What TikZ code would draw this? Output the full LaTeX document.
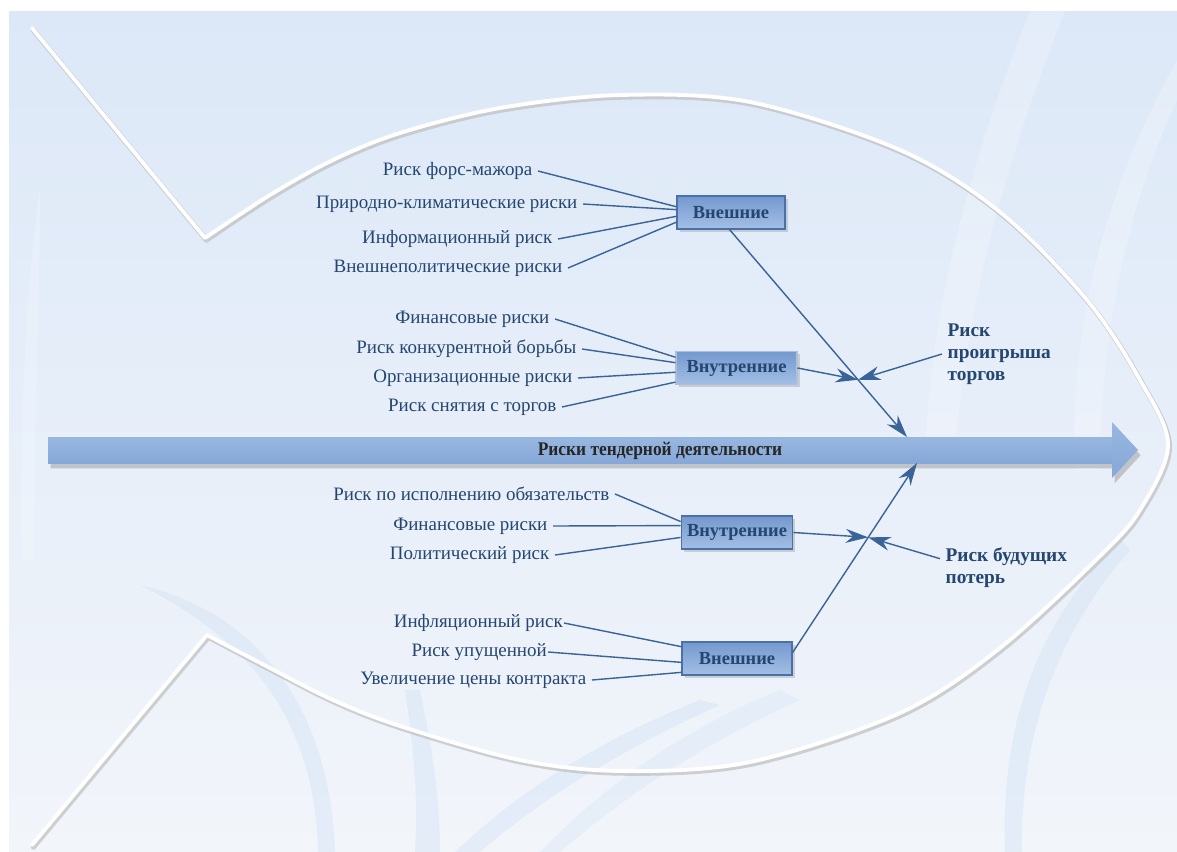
\documentclass[tikz,border=0pt]{standalone}
\usepackage{fontspec}
\setmainfont{Liberation Serif}
\usetikzlibrary{arrows.meta,calc,shadows,positioning}

\definecolor{navy}{HTML}{24466F}
\definecolor{wirec}{HTML}{3A6398}
\definecolor{boxline}{HTML}{4A70A6}
\definecolor{boxtop}{HTML}{7499CF}
\definecolor{boxbot}{HTML}{A3BFE6}
\definecolor{bgtop}{HTML}{DCE8F8}
\definecolor{bgbot}{HTML}{F2F5FA}
\definecolor{bandc}{HTML}{D3E3F6}
\definecolor{spinetop}{HTML}{98B7E0}
\definecolor{spinemid}{HTML}{6890C8}
\definecolor{spinebot}{HTML}{86A8D8}

\begin{document}
\begin{tikzpicture}[x=0.02cm,y=-0.02cm,
  lbl/.style={text=navy,font=\fontsize{10.8}{12}\selectfont,inner xsep=3pt,inner ysep=1pt,anchor=east},
  grp/.style={draw=boxline,line width=0.6pt,top color=boxtop,bottom color=boxbot,text=navy,
    font=\bfseries\fontsize{10.5}{12}\selectfont,minimum height=0.66cm,
    drop shadow={opacity=0.3,shadow xshift=1.5pt,shadow yshift=-1.5pt}},
  res/.style={text=navy,font=\bfseries\fontsize{11}{12.5}\selectfont,align=left,inner xsep=3pt,anchor=west},
  wire/.style={draw=wirec,line width=0.8pt},
  hit/.style={wire,-{Stealth[length=4.5mm,width=2.8mm]}},
  rim/.style={white,line width=2.2pt,line join=round,line cap=round},
  rimshade/.style={gray!50,line width=3pt,line join=round,line cap=round,opacity=0.7}]

\useasboundingbox (0,0) rectangle (1177,852);
\fill[white] (0,0) rectangle (1177,852);
\fill[top color=bgtop,bottom color=bgbot] (9,11) rectangle (1177,852);

\fill[white,opacity=0.22] (1030,11) .. controls (975,150) and (930,300) .. (925,460) -- (955,460) .. controls (965,300) and (1010,150) .. (1065,11) -- cycle;
\fill[white,opacity=0.22] (1177,60) .. controls (1100,200) and (1070,330) .. (1075,470) -- (1100,470) .. controls (1100,330) and (1130,200) .. (1177,100) -- cycle;
\fill[white,opacity=0.2] (40,190) .. controls (25,300) and (20,420) .. (22,560) -- (34,560) .. controls (34,420) and (40,300) .. (40,190) -- cycle;
\fill[bandc,opacity=0.45] (140,585) .. controls (250,610) and (330,700) .. (335,852) -- (318,852) .. controls (315,720) and (250,640) .. (140,585) -- cycle;
\fill[bandc,opacity=0.45] (1120,540) .. controls (1040,620) and (1000,720) .. (1005,852) -- (1022,852) .. controls (1020,730) and (1060,630) .. (1130,550) -- cycle;
\fill[bandc,opacity=0.45] (700,700) .. controls (600,740) and (520,790) .. (455,852) -- (480,852) .. controls (540,800) and (620,750) .. (720,705) -- cycle;
\fill[bandc,opacity=0.35] (780,690) .. controls (680,730) and (600,790) .. (540,852) -- (560,852) .. controls (620,800) and (700,745) .. (800,700) -- cycle;
\fill[bandc,opacity=0.45] (405,690) .. controls (415,760) and (418,800) .. (415,852) -- (440,852) .. controls (440,790) and (430,740) .. (420,690) -- cycle;

\draw[rimshade,xshift=0.8pt,yshift=-1.2pt] (32,28) -- (205,238) -- plot[smooth,tension=0.55] coordinates {(205,238) (270,195) (333,160) (400,133) (500,108) (620,95) (750,102) (900,150) (1000,212) (1087,300) (1140,380) (1168,445) (1140,510) (1100,556) (1000,648) (900,713) (750,762) (623,771) (520,760) (400,726) (333,700) (270,668) (207,635)} -- (32,845);
\draw[rim] (32,28) -- (205,238) -- plot[smooth,tension=0.55] coordinates {(205,238) (270,195) (333,160) (400,133) (500,108) (620,95) (750,102) (900,150) (1000,212) (1087,300) (1140,380) (1168,445) (1140,510) (1100,556) (1000,648) (900,713) (750,762) (623,771) (520,760) (400,726) (333,700) (270,668) (207,635)} -- (32,845);

\fill[gray!80,opacity=0.5,xshift=1.5pt,yshift=-3pt] (48,437) -- (1112,437) -- (1112,422) -- (1138,450) -- (1112,478) -- (1112,463) -- (48,463) -- cycle;
\shade[top color=spinetop,middle color=spinemid,bottom color=spinebot] (48,437) rectangle (1113,463);
\shade[top color=spinetop,middle color=spinemid,bottom color=spinebot] (1112,422) -- (1138,450) -- (1112,478) -- cycle;
\node[font=\bfseries\fontsize{11}{12}\selectfont,text=black!85,xscale=0.9] (sp) at (660,451) {Риски тендерной деятельности};

\node[grp,minimum width=2.16cm] (b1) at (731,212.5) {Внешние};
\node[grp,minimum width=2.42cm,draw=boxline!45] (b2) at (736.5,368) {Внутренние};
\node[grp,minimum width=2.2cm] (b3) at (737,532.5) {Внутренние};
\node[grp,minimum width=2.2cm] (b4) at (737,658.5) {Внешние};

\node[lbl] (e0) at (538,171) {Риск форс-мажора};
\node[lbl] (e1) at (583,204) {Природно-климатические риски};
\node[lbl] (e2) at (558,239) {Информационный риск};
\node[lbl] (e3) at (568,268) {Внешнеполитические риски};

\node[lbl] (f0) at (555,319) {Финансовые риски};
\node[lbl] (f1) at (582,349) {Риск конкурентной борьбы};
\node[lbl] (f2) at (578,378) {Организационные риски};
\node[lbl] (f3) at (562,407) {Риск снятия с торгов};

\node[lbl] (g0) at (615,494) {Риск по исполнению обязательств};
\node[lbl] (g1) at (553,526) {Финансовые риски};
\node[lbl] (g2) at (555,555) {Политический риск};

\node[lbl,inner xsep=0.5pt] (h0) at (564,623) {Инфляционный риск};
\node[lbl,inner xsep=0.5pt] (h1) at (548,652) {Риск упущенной};
\node[lbl] (h2) at (592,680) {Увеличение цены контракта};

\foreach \n/\a in {e0/174,e1/177,e2/184,e3/190} {
\draw[wire] (\n.east) -- (b1.\a);
}
\foreach \n/\a in {f0/170,f1/175,f2/184,f3/193} {
\draw[wire] (\n.east) -- (b2.\a);
}
\foreach \n/\a in {g0/169,g1/173,g2/185} {
\draw[wire] (\n.east) -- (b3.\a);
}
\foreach \n/\a in {h0/168,h1/184,h2/194} {
\draw[wire] (\n.east) -- (b4.\a);
}

\coordinate (t1) at (907,437);
\coordinate (t2) at (917,463);
\coordinate (x1) at ($(b1.265)!0.724!(t1)$);
\coordinate (x2) at ($(b4.6)!0.608!(t2)$);

\node[res] (r1) at (942,354) {Риск\\проигрыша\\торгов};
\node[res] (r2) at (940,568) {Риск будущих\\потерь};

\draw[hit] (b1.265) -- (t1);
\draw[hit] (b4.6) -- (t2);
\draw[hit] (b2.east) -- (x1);
\draw[hit] (b3.east) -- (x2);
\draw[hit] (r1.west) -- (x1);
\draw[hit] (r2.172) -- (x2);
\end{tikzpicture}
\end{document}
